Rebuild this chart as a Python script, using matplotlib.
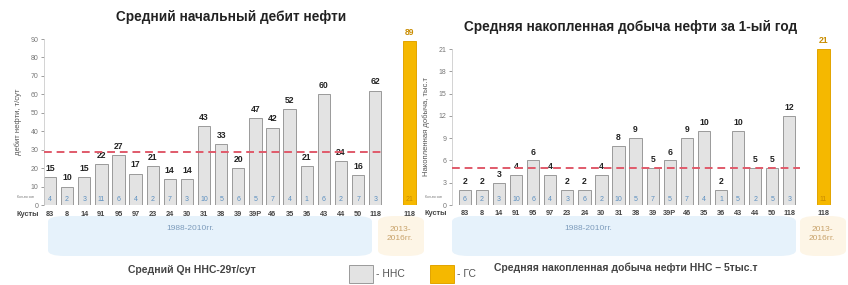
import matplotlib.pyplot as plt
import matplotlib.transforms as mtransforms
from matplotlib.patches import FancyBboxPatch, Rectangle

plt.rcParams['font.family'] = ['Liberation Sans', 'DejaVu Sans']

# Data
clusters = ['83', '8', '14', '91', '95', '97', '23', '24', '30', '31', '38', '39',
            '39Р', '46', '35', '36', '43', '44', '50', '118']
gs_cluster = '118'

debit_nns = [15, 10, 15, 22, 27, 17, 21, 14, 14, 43, 33, 20, 47, 42, 52, 21, 60, 24, 16, 62]
debit_gs = 89
debit_avg = 29
wells_debit = [4, 2, 3, 11, 6, 4, 2, 7, 3, 10, 5, 6, 5, 7, 4, 1, 6, 2, 7, 3]
wells_debit_gs = 21

cum_nns = [2, 2, 3, 4, 6, 4, 2, 2, 4, 8, 9, 5, 6, 9, 10, 2, 10, 5, 5, 12]
cum_gs = 21
cum_avg = 5
wells_cum = [6, 2, 3, 10, 6, 4, 3, 6, 2, 10, 5, 7, 5, 7, 4, 1, 5, 2, 5, 3]
wells_cum_gs = 11

NNS_FILL = '#e3e3e3'
NNS_EDGE = '#9a9a9a'
GS_FILL = '#f5b800'
GS_EDGE = '#e2a400'
WELL_COLOR = '#5b8fc0'
AVG_COLOR = '#e05a6a'

W, H = 848, 285
fig = plt.figure(figsize=(W / 100, H / 100), dpi=100)


def fx(px):
    return px / W


def fy(py):
    return 1 - py / H


# background bands below the axes
def band(x0, x1, y0, y1, color):
    p = FancyBboxPatch((fx(x0), fy(y1)), fx(x1 - x0), (y1 - y0) / H,
                       boxstyle='round,pad=0,rounding_size=0.02',
                       transform=fig.transFigure, facecolor=color,
                       edgecolor='none', zorder=0)
    fig.patches.append(p)


band(48, 372, 216, 256, '#e6f2fb')
band(378, 424, 216, 256, '#fdf5e6')
band(452, 796, 216, 256, '#e6f2fb')
band(800, 846, 216, 256, '#fdf5e6')


def draw_panel(ax, values, gs_value, wells, gs_wells, avg, ymax, ystep,
               title, ylabel, xleft):
    x = list(range(len(clusters)))
    gs_x = len(clusters) + 1
    ax.bar(x, values, width=0.72, color=NNS_FILL, edgecolor=NNS_EDGE,
           linewidth=0.7, zorder=2)
    ax.bar([gs_x], [gs_value], width=0.72, color=GS_FILL, edgecolor=GS_EDGE,
           linewidth=0.7, zorder=2)
    off = ymax * 0.025
    for xi, v in zip(x, values):
        ax.text(xi, v + off, f"{v}", ha='center', va='bottom', fontsize=6.2,
                fontweight='bold', color='#222222')
    ax.text(gs_x, gs_value + off, f"{gs_value}", ha='center', va='bottom',
            fontsize=6.2, fontweight='bold', color='#c98c00', clip_on=False)

    # average line
    ax.plot([xleft, len(clusters) - 0.4], [avg, avg], color=AVG_COLOR,
            linestyle=(0, (4, 2.5)), linewidth=1.4, zorder=3)

    # well counts inside the bars
    trans = mtransforms.blended_transform_factory(ax.transData, ax.transAxes)
    for xi, n in zip(x, wells):
        ax.text(xi, 0.035, str(n), transform=trans, ha='center', va='center',
                fontsize=5, color=WELL_COLOR, zorder=4)
    ax.text(gs_x, 0.035, str(gs_wells), transform=trans, ha='center',
            va='center', fontsize=5, color='#c98c00', zorder=4)
    ax.text(xleft - 0.6, 0.05, 'Кол-во скв', transform=trans, ha='right',
            va='center', fontsize=2.5, color='#777777')

    # cluster labels
    for xi, c in zip(x, clusters):
        ax.text(xi, -0.055, c, transform=trans, ha='center', va='center',
                fontsize=5.3, fontweight='bold', color='#444444')
    ax.text(gs_x, -0.055, gs_cluster, transform=trans, ha='center',
            va='center', fontsize=5.3, fontweight='bold', color='#444444')
    ax.text(xleft - 0.3, -0.055, 'Кусты', transform=trans, ha='right',
            va='center', fontsize=5.3, fontweight='bold', color='#444444')

    ax.set_xlim(xleft, gs_x + 0.5)
    ax.set_ylim(0, ymax)
    ax.set_yticks(range(0, ymax + 1, ystep))
    ax.tick_params(axis='y', labelsize=5, colors='#777777', length=2,
                   width=0.5, pad=2)
    ax.set_xticks([])
    for s in ['top', 'right', 'bottom']:
        ax.spines[s].set_visible(False)
    ax.spines['left'].set_color('#cccccc')
    ax.spines['left'].set_linewidth(0.6)
    ax.set_ylabel(ylabel, fontsize=5.5, color='#555555', labelpad=6)
    ax.set_title(title, fontsize=9.8, fontweight='bold', color='#222222',
                 pad=13)
    ax.patch.set_alpha(0)


# left panel: 0 at y=205, 90 at y=39, x from 44 to 418
ax1 = fig.add_axes([fx(44), fy(205), fx(418 - 44), (205 - 39) / H])
draw_panel(ax1, debit_nns, debit_gs, wells_debit, wells_debit_gs, debit_avg,
           90, 10, 'Средний начальный дебит нефти', 'дебит нефти, т/сут', -0.35)

# right panel: 0 at y=205, 21 at y=49, x from 452 to 830
ax2 = fig.add_axes([fx(452), fy(205), fx(832 - 452), (205 - 49) / H])
draw_panel(ax2, cum_nns, cum_gs, wells_cum, wells_cum_gs, cum_avg,
           21, 3, 'Средняя накопленная добыча нефти за 1-ый год',
           'Накопленная добыча, тыс.т', -0.75)
ax2.title.set_position((0.47, 1.0))

# period labels
fig.text(fx(190), fy(229), '1988-2010гг.', fontsize=6, color='#7d9cbc',
         ha='center', va='center')
fig.text(fx(400), fy(234), '2013-\n2016гг.', fontsize=6, color='#c8a26a',
         ha='center', va='center', linespacing=1.4)
fig.text(fx(588), fy(229), '1988-2010гг.', fontsize=6, color='#7d9cbc',
         ha='center', va='center')
fig.text(fx(822), fy(234), '2013-\n2016гг.', fontsize=6, color='#c8a26a',
         ha='center', va='center', linespacing=1.4)

# bottom notes and legend
fig.text(fx(192), fy(270), 'Средний Qн ННС-29т/сут', fontsize=7.5,
         fontweight='bold', color='#444444', ha='center', va='center')
fig.patches.append(Rectangle((fx(349), fy(283)), fx(24), 18 / H,
                             transform=fig.transFigure, facecolor=NNS_FILL,
                             edgecolor=NNS_EDGE, linewidth=0.7))
fig.text(fx(376), fy(274), '- ННС', fontsize=7.5, color='#555555',
         ha='left', va='center')
fig.patches.append(Rectangle((fx(430), fy(283)), fx(24), 18 / H,
                             transform=fig.transFigure, facecolor=GS_FILL,
                             edgecolor=GS_EDGE, linewidth=0.7))
fig.text(fx(457), fy(274), '- ГС', fontsize=7.5, color='#555555',
         ha='left', va='center')
fig.text(fx(494), fy(268), 'Средняя накопленная добыча нефти ННС – 5тыс.т',
         fontsize=7.5, fontweight='bold', color='#444444', ha='left',
         va='center')

fig.savefig('out.png', dpi=100)
